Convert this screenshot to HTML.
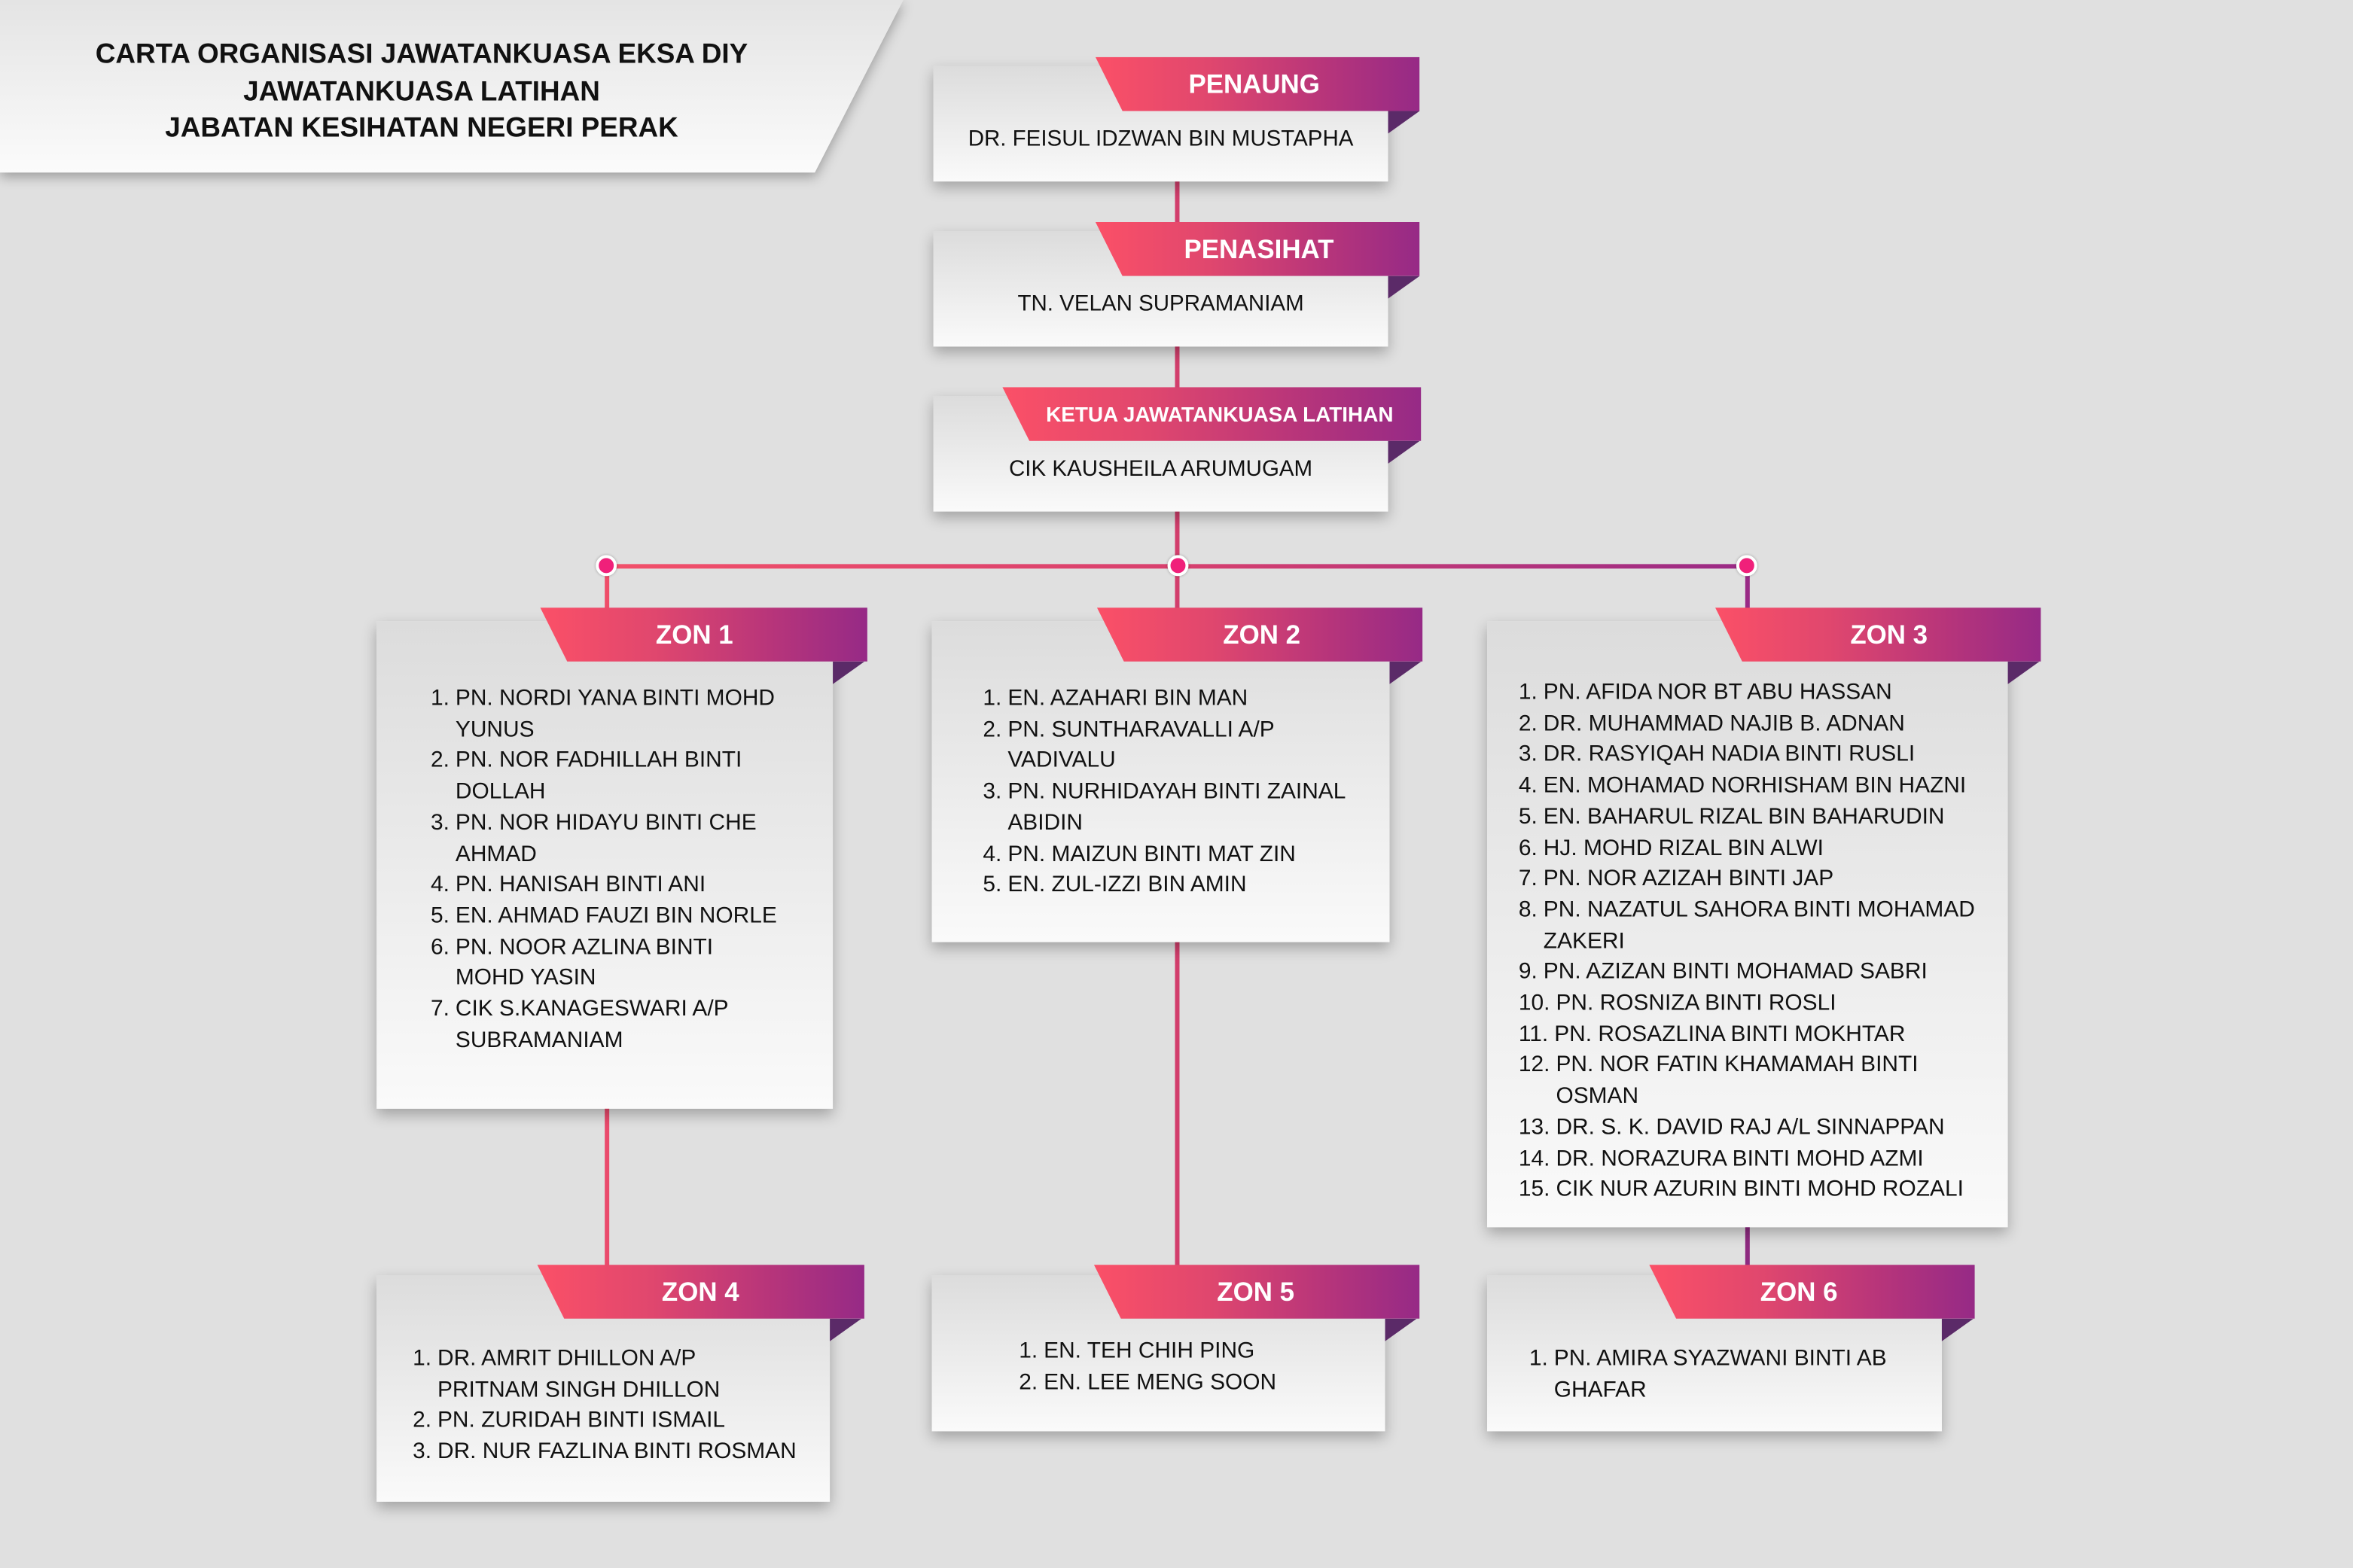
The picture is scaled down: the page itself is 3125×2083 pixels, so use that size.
<!DOCTYPE html>
<html><head><meta charset="utf-8">
<style>
html,body{margin:0;padding:0;background:#e0e0e0;}
body{width:3125px;height:2083px;overflow:hidden;}
#w{position:absolute;left:0;top:0;width:1568px;height:1045px;transform:scale(1.99298);transform-origin:0 0;font-family:"Liberation Sans",sans-serif;color:#111;}
.abs{position:absolute;}
.box{position:absolute;background:linear-gradient(#dcdcdc,#fafafa);box-shadow:0 4px 9px rgba(0,0,0,.28);}
.rib{position:absolute;height:36px;background:linear-gradient(90deg,#fb5067,#e0476e 35%,#b8357a 70%,#962a86);color:#fff;font-weight:bold;font-size:17.5px;line-height:36px;text-align:center;filter:drop-shadow(0 3px 3px rgba(0,0,0,.25));}
.rib span{position:absolute;top:0;}
.fold{position:absolute;width:0;height:0;border-top:15px solid #5b2a68;border-left:21px solid transparent;transform:scaleX(-1);}
.line{position:absolute;background:#d23e6c;}
.t{position:absolute;font-size:14.8px;white-space:nowrap;line-height:17px;}
.list{position:absolute;font-size:15px;line-height:20.7px;white-space:nowrap;}
.li{display:flex;}
.li b{font-weight:normal;margin-right:4px;}
.dot{position:absolute;width:10px;height:10px;border-radius:50%;background:#f0207a;border:2.5px solid #fff;box-shadow:0 0 2px rgba(0,0,0,.3);}
</style></head><body><div id="w">

<svg class="abs" style="left:0;top:0;filter:drop-shadow(0 3px 4px rgba(0,0,0,.3))" width="620" height="125">
<defs><linearGradient id="tg" x1="0" y1="0" x2="0" y2="1"><stop offset="0" stop-color="#e4e4e4"/><stop offset="1" stop-color="#fbfbfb"/></linearGradient></defs>
<polygon points="0,0 602,0 543,115 0,115" fill="url(#tg)"/></svg>
<div class="abs" style="left:0;width:562px;top:24px;text-align:center;font-weight:bold;font-size:18.5px;line-height:24.5px;">CARTA ORGANISASI JAWATANKUASA EKSA DIY<br>JAWATANKUASA LATIHAN<br>JABATAN KESIHATAN NEGERI PERAK</div>

<div class="line" style="left:783px;top:118px;width:2.5px;height:36px"></div>
<div class="line" style="left:783px;top:228px;width:2.5px;height:36px"></div>
<div class="line" style="left:783px;top:338px;width:2.5px;height:70px"></div>
<div class="abs" style="left:404px;top:376px;width:760px;height:3px;background:linear-gradient(90deg,#f2506a,#d8406e 50%,#9a2a86)"></div>
<div class="line" style="left:403px;top:378px;width:2.5px;height:30px;background:#ef4d69"></div>
<div class="line" style="left:1163px;top:378px;width:2.5px;height:30px;background:#9a2a86"></div>
<div class="line" style="left:403px;top:738px;width:2.5px;height:108px;background:#ea4a6c"></div>
<div class="line" style="left:783px;top:626px;width:2.5px;height:220px"></div>
<div class="line" style="left:1163px;top:816px;width:2.5px;height:32px;background:#8e2a80"></div>
<div class="dot" style="left:396.5px;top:369.5px"></div>
<div class="dot" style="left:777.5px;top:369.5px"></div>
<div class="dot" style="left:1156.5px;top:369.5px"></div>

<div class="box" style="left:622px;top:44px;width:303px;height:77px"></div>
<div class="rib" style="left:730px;top:38px;width:216px;clip-path:polygon(0 0,100% 0,100% 100%,18px 100%)"><span style="left:62px">PENAUNG</span></div>
<div class="fold" style="left:925px;top:74px"></div>
<div class="t" style="left:622px;width:303px;text-align:center;top:85px">DR. FEISUL IDZWAN BIN MUSTAPHA</div>

<div class="box" style="left:622px;top:154px;width:303px;height:77px"></div>
<div class="rib" style="left:730px;top:148px;width:216px;clip-path:polygon(0 0,100% 0,100% 100%,18px 100%)"><span style="left:59px">PENASIHAT</span></div>
<div class="fold" style="left:925px;top:184px"></div>
<div class="t" style="left:622px;width:303px;text-align:center;top:195px">TN. VELAN SUPRAMANIAM</div>

<div class="box" style="left:622px;top:264px;width:303px;height:77px"></div>
<div class="rib" style="left:668px;top:258px;width:279px;font-size:14px;clip-path:polygon(0 0,100% 0,100% 100%,18px 100%)"><span style="left:29px">KETUA JAWATANKUASA LATIHAN</span></div>
<div class="fold" style="left:925px;top:294px"></div>
<div class="t" style="left:622px;width:303px;text-align:center;top:305px">CIK KAUSHEILA ARUMUGAM</div>

<div class="box" style="left:251px;top:414px;width:304px;height:325px"></div>
<div class="rib" style="left:360px;top:405px;width:218px;clip-path:polygon(0 0,100% 0,100% 100%,18px 100%)"><span style="left:77px">ZON 1</span></div>
<div class="fold" style="left:555px;top:441px"></div>
<div class="list" style="left:287px;top:456px">
<div class="li"><b>1.</b><span>PN. NORDI YANA BINTI MOHD<br>YUNUS</span></div>
<div class="li"><b>2.</b><span>PN. NOR FADHILLAH BINTI<br>DOLLAH</span></div>
<div class="li"><b>3.</b><span>PN. NOR HIDAYU BINTI CHE<br>AHMAD</span></div>
<div class="li"><b>4.</b><span>PN. HANISAH BINTI ANI</span></div>
<div class="li"><b>5.</b><span>EN. AHMAD FAUZI BIN NORLE</span></div>
<div class="li"><b>6.</b><span>PN. NOOR AZLINA BINTI<br>MOHD YASIN</span></div>
<div class="li"><b>7.</b><span>CIK S.KANAGESWARI A/P<br>SUBRAMANIAM</span></div>
</div>

<div class="box" style="left:621px;top:414px;width:305px;height:214px"></div>
<div class="rib" style="left:731px;top:405px;width:217px;clip-path:polygon(0 0,100% 0,100% 100%,18px 100%)"><span style="left:84px">ZON 2</span></div>
<div class="fold" style="left:926px;top:441px"></div>
<div class="list" style="left:655px;top:456px">
<div class="li"><b>1.</b><span>EN. AZAHARI BIN MAN</span></div>
<div class="li"><b>2.</b><span>PN. SUNTHARAVALLI A/P<br>VADIVALU</span></div>
<div class="li"><b>3.</b><span>PN. NURHIDAYAH BINTI ZAINAL<br>ABIDIN</span></div>
<div class="li"><b>4.</b><span>PN. MAIZUN BINTI MAT ZIN</span></div>
<div class="li"><b>5.</b><span>EN. ZUL-IZZI BIN AMIN</span></div>
</div>

<div class="box" style="left:991px;top:414px;width:347px;height:404px"></div>
<div class="rib" style="left:1143px;top:405px;width:217px;clip-path:polygon(0 0,100% 0,100% 100%,18px 100%)"><span style="left:90px">ZON 3</span></div>
<div class="fold" style="left:1338px;top:441px"></div>
<div class="list" style="left:1012px;top:452px">
<div class="li"><b>1.</b><span>PN. AFIDA NOR BT ABU HASSAN</span></div>
<div class="li"><b>2.</b><span>DR. MUHAMMAD NAJIB B. ADNAN</span></div>
<div class="li"><b>3.</b><span>DR. RASYIQAH NADIA BINTI RUSLI</span></div>
<div class="li"><b>4.</b><span>EN. MOHAMAD NORHISHAM BIN HAZNI</span></div>
<div class="li"><b>5.</b><span>EN. BAHARUL RIZAL BIN BAHARUDIN</span></div>
<div class="li"><b>6.</b><span>HJ. MOHD RIZAL BIN ALWI</span></div>
<div class="li"><b>7.</b><span>PN. NOR AZIZAH BINTI JAP</span></div>
<div class="li"><b>8.</b><span>PN. NAZATUL SAHORA BINTI MOHAMAD<br>ZAKERI</span></div>
<div class="li"><b>9.</b><span>PN. AZIZAN BINTI MOHAMAD SABRI</span></div>
<div class="li"><b>10.</b><span>PN. ROSNIZA BINTI ROSLI</span></div>
<div class="li"><b>11.</b><span>PN. ROSAZLINA BINTI MOKHTAR</span></div>
<div class="li"><b>12.</b><span>PN. NOR FATIN KHAMAMAH BINTI<br>OSMAN</span></div>
<div class="li"><b>13.</b><span>DR. S. K. DAVID RAJ A/L SINNAPPAN</span></div>
<div class="li"><b>14.</b><span>DR. NORAZURA BINTI MOHD AZMI</span></div>
<div class="li"><b>15.</b><span>CIK NUR AZURIN BINTI MOHD ROZALI</span></div>
</div>

<div class="box" style="left:251px;top:850px;width:302px;height:151px"></div>
<div class="rib" style="left:358px;top:843px;width:218px;clip-path:polygon(0 0,100% 0,100% 100%,18px 100%)"><span style="left:83px">ZON 4</span></div>
<div class="fold" style="left:553px;top:879px"></div>
<div class="list" style="left:275px;top:896px">
<div class="li"><b>1.</b><span>DR. AMRIT DHILLON A/P<br>PRITNAM SINGH DHILLON</span></div>
<div class="li"><b>2.</b><span>PN. ZURIDAH BINTI ISMAIL</span></div>
<div class="li"><b>3.</b><span>DR. NUR FAZLINA BINTI ROSMAN</span></div>
</div>

<div class="box" style="left:621px;top:850px;width:302px;height:104px"></div>
<div class="rib" style="left:729px;top:843px;width:217px;clip-path:polygon(0 0,100% 0,100% 100%,18px 100%)"><span style="left:82px">ZON 5</span></div>
<div class="fold" style="left:923px;top:879px"></div>
<div class="list" style="left:679px;top:891px">
<div class="li"><b>1.</b><span>EN. TEH CHIH PING</span></div>
<div class="li"><b>2.</b><span>EN. LEE MENG SOON</span></div>
</div>

<div class="box" style="left:991px;top:850px;width:303px;height:104px"></div>
<div class="rib" style="left:1099px;top:843px;width:217px;clip-path:polygon(0 0,100% 0,100% 100%,18px 100%)"><span style="left:74px">ZON 6</span></div>
<div class="fold" style="left:1294px;top:879px"></div>
<div class="list" style="left:1019px;top:896px">
<div class="li"><b>1.</b><span>PN. AMIRA SYAZWANI BINTI AB<br>GHAFAR</span></div>
</div>

</div></body></html>
